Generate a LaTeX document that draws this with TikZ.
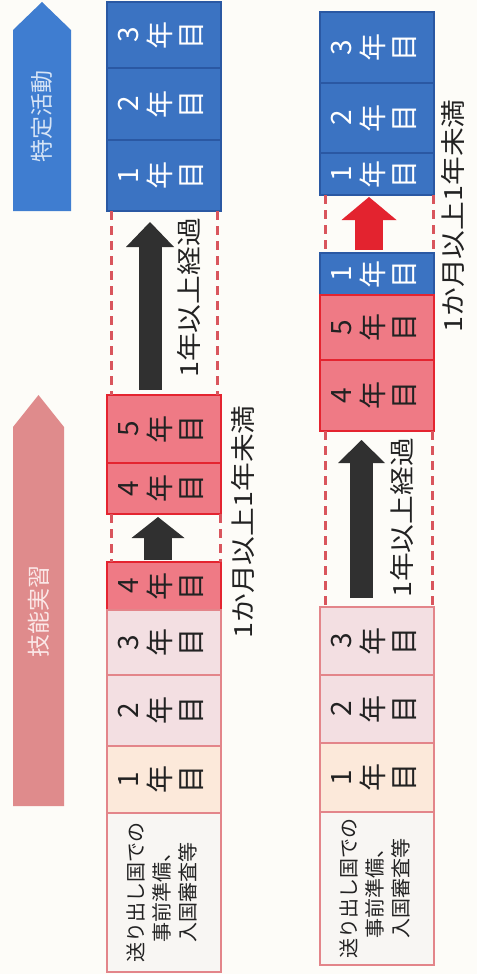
\documentclass[tikz,border=0pt]{standalone}
\usepackage{fontspec}
\setmainfont{Noto Sans CJK JP}
\usetikzlibrary{arrows.meta}

\definecolor{paper}{HTML}{FDFCF8}
\definecolor{yrblue}{HTML}{3B73C2}
\definecolor{yrblueline}{HTML}{2A58A3}
\definecolor{yrred}{HTML}{EF7A85}
\definecolor{yrredline}{HTML}{E42430}
\definecolor{yrpale}{HTML}{F3DFE2}
\definecolor{yrpeach}{HTML}{FCE9DA}
\definecolor{yrpaleline}{HTML}{E3858A}
\definecolor{prepfill}{HTML}{F8F6F3}
\definecolor{actblue}{HTML}{3F7DD0}
\definecolor{actbluetext}{HTML}{D6E4F6}
\definecolor{trainpink}{HTML}{DF8B8C}
\definecolor{trainpinktext}{HTML}{FBE8E8}
\definecolor{guidered}{HTML}{D9555D}
\definecolor{stepgray}{HTML}{303030}
\definecolor{stepred}{HTML}{E3232F}
\definecolor{inkgray}{HTML}{222222}

\newcommand{\yrlbl}[1]{\rotatebox{90}{\begin{tabular}{@{}c@{}}#1\\年\\目\end{tabular}}}
\newcommand{\stretchlbl}[1]{\scalebox{1.15}[1]{#1}}

\begin{document}
\begin{tikzpicture}[
    x=1pt, y=-1pt,
    yr/.style={rectangle, line width=2pt, minimum width=114pt,
        minimum height=#1, inner sep=0pt, outer sep=0pt, anchor=north,
        font=\fontsize{28}{29}\selectfont},
    blueyr/.style={yr=#1, fill=yrblue, draw=yrblueline, text=white},
    redyr/.style={yr=#1, fill=yrred, draw=yrredline, text=inkgray},
    paleyr/.style={yr=#1, fill=yrpale, draw=yrpaleline, text=inkgray},
    firstyr/.style={yr=#1, fill=yrpeach, draw=yrpaleline, text=inkgray},
    prepbox/.style={yr=#1, fill=prepfill, draw=yrpaleline, text=inkgray,
        font=\fontsize{20}{26}\selectfont},
    guide/.style={draw=guidered, line width=3pt, dash pattern=on 9pt off 6pt},
    stepup/.style n args={3}{line width=#1,
        -{Triangle[length=#2, width=#3, line width=0pt]}},
    note/.style={rotate=90, inner sep=0pt, text=inkgray,
        font=\fontsize{25}{30}\selectfont},
    phase/.style={rotate=90, inner sep=0pt, font=\fontsize{23}{28}\selectfont}
]
\fill[paper] (0,0) rectangle (477,974);
\useasboundingbox (0,0) rectangle (477,974);

% phase arrows
\fill[actblue] (13,211) -- (13,30) -- (42,2) -- (71,30) -- (71,211) -- cycle;
\node[phase, text=actbluetext] (tokutei) at (42,116) {特定活動};
\fill[trainpink] (13,806) -- (13,427) -- (38.5,395) -- (64,427) -- (64,806) -- cycle;
\node[phase, text=trainpinktext] (ginou) at (39,611) {技能実習};

% column 2
\node[blueyr=66pt] (c2y3) at (164,2) {\yrlbl{3}};
\node[blueyr=72pt] (c2y2) at (164,68) {\yrlbl{2}};
\node[blueyr=71pt] (c2y1) at (164,140) {\yrlbl{1}};
\node[redyr=68pt] (c2y5) at (164,395) {\yrlbl{5}};
\node[redyr=51pt] (c2y4) at (164,463) {\yrlbl{4}};
\node[redyr=48pt] (c2y4a) at (164,562) {\yrlbl{4}};
\node[paleyr=65pt] (c2t3) at (164,610) {\yrlbl{3}};
\node[paleyr=71pt] (c2t2) at (164,675) {\yrlbl{2}};
\node[firstyr=67pt] (c2t1) at (164,746) {\yrlbl{1}};
\node[prepbox=159pt] (c2prep) at (164,813)
    {\rotatebox{90}{\begin{tabular}{@{}c@{}}送り出し国での\\事前準備、\\入国審査等\end{tabular}}};

\draw[guide] ([xshift=4pt]c2y1.south west) -- ([xshift=4pt]c2y5.north west);
\draw[guide] ([xshift=-4pt]c2y1.south east) -- ([xshift=-4pt]c2y5.north east);
\draw[guide] ([xshift=4pt]c2y4.south west) -- ([xshift=4pt]c2y4a.north west);
\draw[guide] ([xshift=-1pt]c2y4.south east) -- ([xshift=-1pt]c2y4a.north east);

\draw[stepup={23pt}{25pt}{48pt}, color=stepgray, shorten <=5pt, shorten >=11pt]
    ([xshift=-14pt]c2y5.north) -- ([xshift=-14pt]c2y1.south);
\draw[stepup={28pt}{21pt}{53pt}, color=stepgray, shorten <=2pt, shorten >=3pt]
    ([xshift=-6pt]c2y4a.north) -- ([xshift=-6pt]c2y4.south);

\node[note] (c2pass) at (189,298) {\stretchlbl{1年以上経過}};
\node[note] (c2span) at (243,522) {\stretchlbl{1か月以上1年未満}};

% column 3
\node[blueyr=71pt] (c3y3) at (377,12) {\yrlbl{3}};
\node[blueyr=70pt] (c3y2) at (377,83) {\yrlbl{2}};
\node[blueyr=42pt] (c3y1) at (377,153) {\yrlbl{1}};
\node[blueyr=42pt] (c3s1) at (377,253) {\yrlbl{1}};
\node[redyr=65pt] (c3y5) at (377,295) {\yrlbl{5}};
\node[redyr=71pt] (c3y4) at (377,360) {\yrlbl{4}};
\node[paleyr=68pt] (c3t3) at (377,607) {\yrlbl{3}};
\node[paleyr=68pt] (c3t2) at (377,675) {\yrlbl{2}};
\node[firstyr=69pt] (c3t1) at (377,743) {\yrlbl{1}};
\node[prepbox=153pt] (c3prep) at (377,812)
    {\rotatebox{90}{\begin{tabular}{@{}c@{}}送り出し国での\\事前準備、\\入国審査等\end{tabular}}};

\draw[guide] ([xshift=5pt]c3y1.south west) -- ([xshift=5pt]c3s1.north west);
\draw[guide] ([xshift=-1pt]c3y1.south east) -- ([xshift=-1pt]c3s1.north east);
\draw[guide] ([xshift=5pt]c3y4.south west) -- ([xshift=5pt]c3t3.north west);
\draw[guide] ([xshift=-2pt]c3y4.south east) -- ([xshift=-2pt]c3t3.north east);

\draw[stepup={28pt}{23pt}{55pt}, color=stepred, shorten <=3pt, shorten >=2pt]
    ([xshift=-8pt]c3s1.north) -- ([xshift=-8pt]c3y1.south);
\draw[stepup={23pt}{23pt}{47pt}, color=stepgray, shorten <=9pt, shorten >=9pt]
    ([xshift=-15.5pt]c3t3.north) -- ([xshift=-15.5pt]c3y4.south);

\node[note] (c3pass) at (402,518) {\stretchlbl{1年以上経過}};
\node[note] (c3span) at (453,216) {\stretchlbl{1か月以上1年未満}};
\end{tikzpicture}
\end{document}
